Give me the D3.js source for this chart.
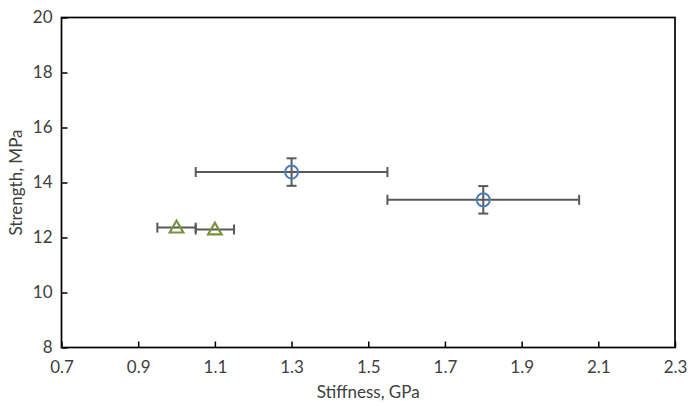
<!DOCTYPE html>
<html><head><meta charset="utf-8">
<script src="https://cdn.jsdelivr.net/npm/d3@7"></script>
<style>body{margin:0;background:#fff}svg{display:block;font-family:Lato,"Noto Sans",sans-serif}</style>
</head><body><svg id="c" width="688" height="406"></svg>
<script>
const xTicks=[0.7,0.9,1.1,1.3,1.5,1.7,1.9,2.1,2.3];
const yTicks=[8,10,12,14,16,18,20];
const circleX=[1.3,1.8], circleY=[14.38,13.37], circleXErr=[0.25,0.25], circleYErr=[0.5,0.5];
const triX=[1.0,1.1], triY=[12.36,12.29], triXErr=[0.05,0.05], triYErr=[0,0];

const svg=d3.select("#c");
const L=61.5,R=675,T=17.5,B=347.5;
const x=d3.scaleLinear().domain([0.7,2.3]).range([L,R]);
const y=d3.scaleLinear().domain([8,20]).range([B,T]);
const txt="#404040", fs=17;

svg.append("rect").attr("x",L).attr("y",T).attr("width",R-L).attr("height",B-T)
  .attr("fill","none").attr("stroke","#000").attr("stroke-width",1.7);

const xa=svg.append("g").attr("transform",`translate(0,${B})`)
  .call(d3.axisBottom(x).tickValues(xTicks).tickFormat(d3.format(".1f")).tickSizeInner(-6).tickSizeOuter(0).tickPadding(13));
xa.select(".domain").remove();
xa.selectAll("line").attr("stroke","#000").attr("stroke-width",1.5);
xa.selectAll("text").attr("fill",txt).attr("font-size",fs).attr("font-family","Lato");

const ya=svg.append("g").attr("transform",`translate(${L},0)`)
  .call(d3.axisLeft(y).tickValues(yTicks).tickSizeInner(-6).tickSizeOuter(0).tickPadding(9));
ya.select(".domain").remove();
ya.selectAll("line").attr("stroke","#000").attr("stroke-width",1.5);
ya.selectAll("text").attr("fill",txt).attr("font-size",fs).attr("font-family","Lato");

svg.append("text").attr("x",(L+R)/2).attr("y",398).attr("text-anchor","middle")
  .attr("fill",txt).attr("font-size",fs).text("Stiffness, GPa");
svg.append("text").attr("transform",`translate(22,${(T+B)/2}) rotate(-90)`).attr("text-anchor","middle")
  .attr("fill",txt).attr("font-size",fs).text("Strength, MPa");

const eb="#595959", cap=5;
function errBars(xs,ys,xe,ye){
  const g=svg.append("g").attr("stroke",eb).attr("stroke-width",2);
  xs.forEach((xv,i)=>{
    const yv=ys[i];
    if(xe[i]>0){
      g.append("line").attr("x1",x(xv-xe[i])).attr("x2",x(xv+xe[i])).attr("y1",y(yv)).attr("y2",y(yv));
      [xv-xe[i],xv+xe[i]].forEach(v=>g.append("line").attr("x1",x(v)).attr("x2",x(v)).attr("y1",y(yv)-cap).attr("y2",y(yv)+cap));
    }
    if(ye[i]>0){
      g.append("line").attr("x1",x(xv)).attr("x2",x(xv)).attr("y1",y(yv-ye[i])).attr("y2",y(yv+ye[i]));
      [yv-ye[i],yv+ye[i]].forEach(v=>g.append("line").attr("y1",y(v)).attr("y2",y(v)).attr("x1",x(xv)-cap).attr("x2",x(xv)+cap));
    }
  });
}
errBars(circleX,circleY,circleXErr,circleYErr);
errBars(triX,triY,triXErr,triYErr);

svg.append("g").selectAll("circle").data(circleX).join("circle")
  .attr("cx",d=>x(d)).attr("cy",(d,i)=>y(circleY[i])).attr("r",6.5)
  .attr("fill","none").attr("stroke","#4a7ebb").attr("stroke-width",2);

const tri=d3.symbol().type(d3.symbolTriangle).size(80);
svg.append("g").selectAll("path").data(triX).join("path")
  .attr("d",tri).attr("transform",(d,i)=>`translate(${x(d)},${y(triY[i])+1})`)
  .attr("fill","none").attr("stroke","#77933c").attr("stroke-width",2.2);
</script></body></html>
